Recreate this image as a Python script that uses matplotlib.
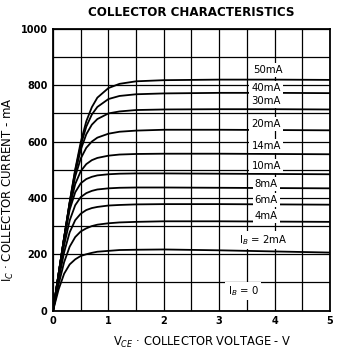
import numpy as np
import matplotlib
matplotlib.use("Agg")
import matplotlib.pyplot as plt

# collector voltage points (V)
vce = [0, 0.1, 0.2, 0.3, 0.4, 0.5, 0.6, 0.7, 0.8, 1.0, 1.2, 1.5, 2, 3, 4, 5]

# collector current (mA) for each base current
ic_50 = [0, 130, 259, 385, 501, 598, 672, 722, 756, 790, 805, 814, 818, 820, 820, 819]
ic_40 = [0, 130, 259, 384, 497, 587, 653, 696, 723, 751, 762, 768, 771, 773, 773, 772]
ic_30 = [0, 130, 259, 382, 489, 571, 626, 660, 680, 700, 707, 712, 714, 715, 715, 714]
ic_20 = [0, 130, 258, 378, 476, 540, 578, 600, 614, 628, 635, 639, 642, 642, 641, 640]
ic_14 = [0, 130, 257, 369, 449, 495, 520, 534, 542, 550, 554, 556, 557, 557, 556, 555]
ic_10 = [0, 130, 255, 358, 420, 452, 467, 475, 480, 484, 486, 487, 487, 486, 485, 484]
ic_8 = [0, 120, 232, 320, 374, 403, 417, 425, 430, 434, 436, 437, 437, 436, 435, 434]
ic_6 = [0, 109, 207, 278, 321, 344, 357, 364, 368, 373, 375, 377, 378, 378, 377, 376]
ic_4 = [0, 93, 172, 227, 261, 281, 292, 300, 305, 310, 313, 315, 317, 317, 316, 315]
ic_2 = [0, 75, 131, 164, 182, 194, 200, 205, 209, 212, 215, 216, 217, 214, 210, 206]

curves = [ic_50, ic_40, ic_30, ic_20, ic_14, ic_10, ic_8, ic_6, ic_4, ic_2]

# curve labels and where they sit (V, mA)
labels = ["50mA", "40mA", "30mA", "20mA", "14mA", "10mA", "8mA", "6mA", "4mA",
          r"I$_B$ = 2mA", r"I$_B$ = 0"]
label_v = [3.88, 3.85, 3.85, 3.85, 3.85, 3.85, 3.85, 3.85, 3.85, 3.8, 3.43]
label_i = [854, 790, 744, 662, 584, 513, 449, 393, 335, 250, 69]

fig = plt.figure(figsize=(3.38, 3.57), dpi=100)
ax = fig.add_axes([0.157, 0.130, 0.819, 0.789])

for ic in curves:
    ax.plot(vce, ic, color="black", lw=1.3, solid_capstyle="round", zorder=3)

for txt, v, i in zip(labels, label_v, label_i):
    ax.text(v, i, txt, ha="center", va="center", fontsize=7.3,
            zorder=5, bbox=dict(facecolor="white", edgecolor="none", pad=1.5))

ax.set_xlim(0, 5)
ax.set_ylim(0, 1000)
ax.set_xticks(np.arange(0, 6, 1))
ax.set_yticks(np.arange(0, 1001, 200))
ax.set_xticks(np.arange(0, 5.01, 0.5), minor=True)
ax.set_yticks(np.arange(0, 1001, 100), minor=True)
ax.grid(which="both", color="black", lw=0.9, zorder=1)
ax.tick_params(which="both", length=0, labelsize=7, pad=4)
for lab in ax.get_xticklabels() + ax.get_yticklabels():
    lab.set_fontweight("bold")
for sp in ax.spines.values():
    sp.set_linewidth(1.3)

ax.set_title("COLLECTOR CHARACTERISTICS", fontsize=8.6, fontweight="bold", pad=9)
ax.set_xlabel(r"V$_{CE}$ · COLLECTOR VOLTAGE - V", fontsize=8.3)
ax.xaxis.set_label_coords(0.54, -0.085)
ax.set_ylabel(r"I$_C$ · COLLECTOR CURRENT - mA", fontsize=8.5)
ax.yaxis.set_label_coords(-0.135, 0.43)

fig.savefig("out.png", dpi=100)
